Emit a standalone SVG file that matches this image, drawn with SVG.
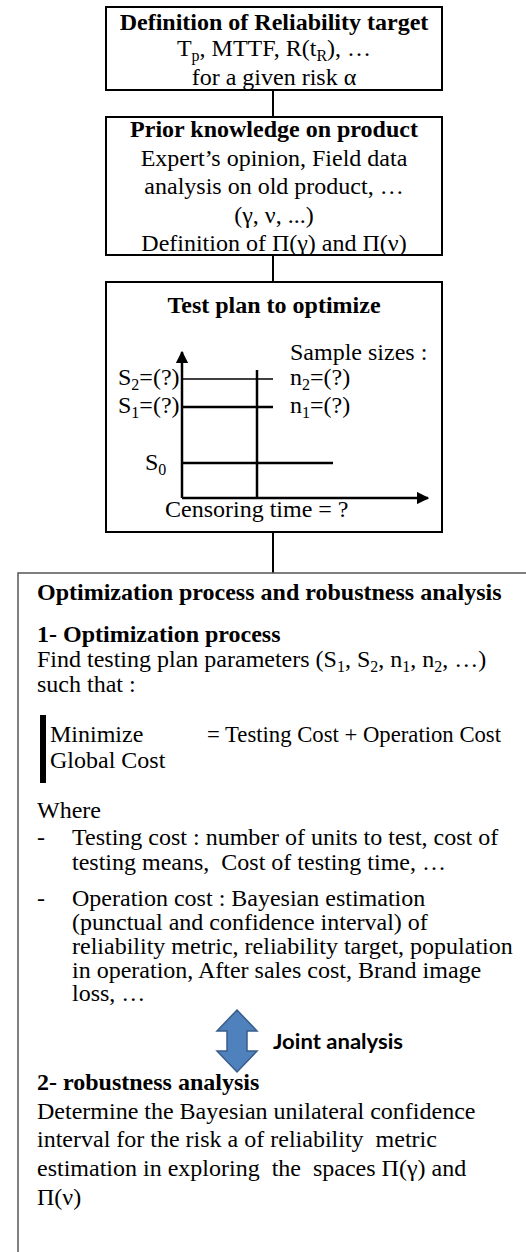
<svg xmlns="http://www.w3.org/2000/svg" width="526" height="1252" viewBox="0 0 526 1252">
<style>
  .t { font-family: "Liberation Serif", "Times New Roman", serif; font-size: 24px; fill: #000; }
  .b { font-weight: bold; }
  .c { text-anchor: middle; }
  .box { fill: #fff; stroke: #000; stroke-width: 2; }
  .big { fill: #fff; stroke: #555; stroke-width: 1.5; }
  .ln { stroke: #000; stroke-width: 2; fill: none; }
  .ax { stroke: #000; stroke-width: 2.5; fill: none; }
  .sub { font-size: 16px; }
  .ja { font-family: Lato, "Open Sans", "Liberation Sans", sans-serif; font-weight: bold; font-size: 20px; fill: #000; }
</style>
<defs>
  <marker id="ah" viewBox="0 0 10 10" refX="9" refY="5" markerWidth="5" markerHeight="5" orient="auto" markerUnits="strokeWidth">
    <path d="M0,0 L10,5 L0,10 Z" fill="#000"/>
  </marker>
</defs>
<rect width="526" height="1252" fill="#fff"/>

<g id="connectors">
  <line class="ln" x1="273" y1="90" x2="273" y2="117"/>
  <line class="ln" x1="273" y1="255" x2="273" y2="282"/>
  <line class="ln" x1="273" y1="532" x2="273" y2="573"/>
</g>

<g id="node-target">
  <rect class="box" x="106" y="7" width="336" height="83"/>
  <text class="t b c" x="274" y="30">Definition of Reliability target</text>
  <text class="t c" x="274" y="56">T<tspan class="sub" dy="5">p</tspan><tspan dy="-5">, MTTF, R(t</tspan><tspan class="sub" dy="5">R</tspan><tspan dy="-5">), …</tspan></text>
  <text class="t c" x="274" y="85">for a given risk α</text>
</g>

<g id="node-prior">
  <rect class="box" x="106" y="117" width="336" height="138"/>
  <text class="t b c" x="274" y="137">Prior knowledge on product</text>
  <text class="t c" x="274" y="166">Expert’s opinion, Field data</text>
  <text class="t c" x="274" y="194">analysis on old product, …</text>
  <text class="t c" x="274" y="223">(γ, ν, ...)</text>
  <text class="t c" x="274" y="251">Definition of Π(γ) and Π(ν)</text>
</g>

<g id="node-testplan">
  <rect class="box" x="106" y="282" width="336" height="250"/>
  <text class="t b c" x="274" y="313">Test plan to optimize</text>
  <text class="t" x="290" y="360">Sample sizes :</text>
  <line class="ax" x1="182" y1="498" x2="182" y2="352" marker-end="url(#ah)"/>
  <line class="ax" x1="182" y1="498" x2="428" y2="498" marker-end="url(#ah)"/>
  <line class="ln" x1="182" y1="379" x2="273" y2="379" style="stroke-width:1.5"/>
  <line class="ax" x1="182" y1="407" x2="273" y2="407"/>
  <line class="ax" x1="257" y1="370" x2="257" y2="498"/>
  <line class="ax" x1="182" y1="463" x2="333" y2="463"/>
  <text class="t" x="118" y="385">S<tspan class="sub" dy="5">2</tspan><tspan dy="-5">=(?)</tspan></text>
  <text class="t" x="290" y="385">n<tspan class="sub" dy="5">2</tspan><tspan dy="-5">=(?)</tspan></text>
  <text class="t" x="118" y="413">S<tspan class="sub" dy="5">1</tspan><tspan dy="-5">=(?)</tspan></text>
  <text class="t" x="290" y="413">n<tspan class="sub" dy="5">1</tspan><tspan dy="-5">=(?)</tspan></text>
  <text class="t" x="145" y="470">S<tspan class="sub" dy="5">0</tspan></text>
  <text class="t" x="165" y="517">Censoring time = ?</text>
</g>

<g id="node-optimization">
  <rect class="big" x="18" y="573" width="600" height="800"/>
  <text class="t b" x="37" y="600">Optimization process and robustness analysis</text>
  <text class="t b" x="37" y="642">1- Optimization process</text>
  <text class="t" x="37" y="667">Find testing plan parameters (S<tspan class="sub" dy="5">1</tspan><tspan dy="-5">, S</tspan><tspan class="sub" dy="5">2</tspan><tspan dy="-5">, n</tspan><tspan class="sub" dy="5">1</tspan><tspan dy="-5">, n</tspan><tspan class="sub" dy="5">2</tspan><tspan dy="-5">, …)</tspan></text>
  <text class="t" x="37" y="692">such that :</text>
  <rect x="40" y="715" width="6" height="68" fill="#000"/>
  <text class="t" x="50" y="742">Minimize</text>
  <text class="t" x="207" y="742" textLength="294" lengthAdjust="spacingAndGlyphs">= Testing Cost + Operation Cost</text>
  <text class="t" x="50" y="768">Global Cost</text>
  <text class="t" x="37" y="818">Where</text>
  <text class="t" x="37" y="845">-</text>
  <text class="t" x="72" y="845">Testing cost : number of units to test, cost of</text>
  <text class="t" x="72" y="870" xml:space="preserve">testing means,  Cost of testing time, …</text>
  <text class="t" x="37" y="906">-</text>
  <text class="t" x="72" y="906">Operation cost : Bayesian estimation</text>
  <text class="t" x="72" y="930">(punctual and confidence interval) of</text>
  <text class="t" x="72" y="954">reliability metric, reliability target, population</text>
  <text class="t" x="72" y="978">in operation, After sales cost, Brand image</text>
  <text class="t" x="72" y="1001">loss, …</text>
  <path d="M237,1010 L257,1031 L247,1031 L247,1051 L257,1051 L237,1072 L217,1051 L227,1051 L227,1031 L217,1031 Z" fill="#4f81bd" stroke="#385d8a" stroke-width="1.5"/>
  <text class="ja" x="273" y="1049" textLength="130" lengthAdjust="spacingAndGlyphs">Joint analysis</text>
  <text class="t b" x="37" y="1090">2- robustness analysis</text>
  <text class="t" x="37" y="1119">Determine the Bayesian unilateral confidence</text>
  <text class="t" x="37" y="1147" xml:space="preserve">interval for the risk a of reliability  metric</text>
  <text class="t" x="37" y="1176" xml:space="preserve">estimation in exploring  the  spaces Π(γ) and</text>
  <text class="t" x="37" y="1205">Π(ν)</text>
</g>
</svg>
